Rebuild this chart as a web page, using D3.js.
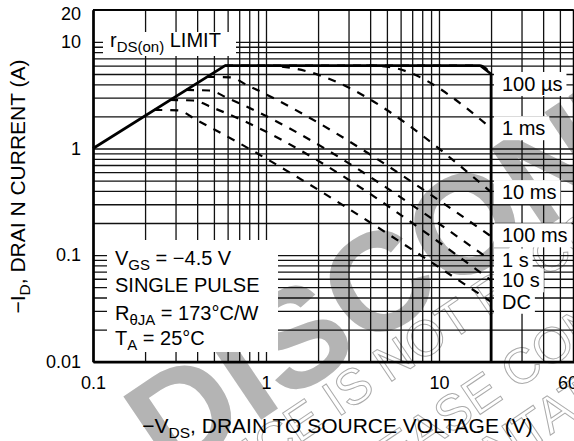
<!DOCTYPE html>
<html>
<head>
<meta charset="utf-8">
<script src="https://cdn.jsdelivr.net/npm/d3@7"></script>
<style>
  body { margin: 0; background: #fff; }
  text { font-family: "Liberation Sans", Arial, Helvetica, sans-serif; }
</style>
</head>
<body>
<div id="chart"></div>
<script>
// values
var xTickLabels = [0.1, 1, 10, 60];
var yTickLabels = [0.01, 0.1, 1, 10, 20];

// rDS(on) limit / package limit / BVdss line
var limitV = [0.1, 0.58, 17.3, 20, 20];
var limitI = [1, 6, 6, 5, 0.01];

var pulseNames = ["100 µs", "1 ms", "10 ms", "100 ms", "1 s", "10 s", "DC"];
var pulseV = [
  [0.58, 17.3, 20],
  [3.8, 5.0, 20],
  [1.0, 1.3, 20],
  [0.455, 0.62, 0.78, 20],
  [0.345, 0.47, 0.60, 20],
  [0.279, 0.38, 0.49, 20],
  [0.226, 0.31, 0.39, 20]
];
var pulseI = [
  [6, 6, 5],
  [6, 5.85, 1.55],
  [6, 5.8, 0.39],
  [4.69, 4.65, 3.92, 0.15],
  [3.54, 3.5, 2.97, 0.089],
  [2.85, 2.82, 2.42, 0.058],
  [2.30, 2.28, 1.88, 0.0365]
];

var W = 574, H = 441;
var pL = 93, pR = 573.6, pT = 9.8, pB = 361.7;

var x = d3.scaleLog().domain([0.1, 60]).range([pL, pR]);
var y = d3.scaleLog().domain([0.01, 20]).range([pB, pT]);

var svg = d3.select("#chart").append("svg")
  .attr("width", W).attr("height", H)
  .style("display", "block");

var gWater = svg.append("g");
var gGrid = svg.append("g");
var gBoxes = svg.append("g");
var gAxes = svg.append("g");
var gCurves = svg.append("g");
var gText = svg.append("g");

// watermark
gWater.append("text")
  .attr("transform", "translate(169.6,481.5) rotate(-34)")
  .attr("font-size", 140).attr("font-weight", "bold")
  .attr("fill", "#b4b4b4")
  .text("DISCONTINUED");

var notes = [
  {t: "THIS DEVICE IS NOT RECOMMENDED FOR NEW DESIGN", tr: "translate(66,601) rotate(-34)"},
  {t: "PLEASE CONTACT YOUR REPRESENTATIVE", tr: "translate(343,507) rotate(-34)"},
  {t: "REPRESENTATIVE FOR INFORMATION", tr: "translate(300,604) rotate(-34)"}
];
gWater.selectAll(".note").data(notes).enter().append("text")
  .attr("class", "note")
  .attr("transform", function(d) { return d.tr; })
  .attr("font-size", 50)
  .attr("fill", "none").attr("stroke", "#aaa").attr("stroke-width", 1)
  .text(function(d) { return d.t; });

// grid
gGrid.append("g")
  .attr("transform", "translate(0," + pB + ")")
  .call(d3.axisBottom(x).tickValues(x.ticks()).tickSize(-(pB - pT)).tickFormat(""))
  .call(function(g) { g.select(".domain").remove(); });
gGrid.append("g")
  .attr("transform", "translate(" + pL + ",0)")
  .call(d3.axisLeft(y).tickValues(y.ticks()).tickSize(-(pR - pL)).tickFormat(""))
  .call(function(g) { g.select(".domain").remove(); });
gGrid.selectAll("line").attr("stroke", "#111").attr("stroke-width", 1.3);

// white boxes behind the in-plot notes
gBoxes.append("rect").attr("x", 103).attr("y", 32).attr("width", 133).attr("height", 24).attr("fill", "#fff");
gBoxes.append("rect").attr("x", 107).attr("y", 240).attr("width", 171).attr("height", 112).attr("fill", "#fff");

// frame and axes
gAxes.append("line").attr("x1", pL).attr("x2", pR).attr("y1", pT).attr("y2", pT)
  .attr("stroke", "#000").attr("stroke-width", 1.7);
gAxes.append("line").attr("x1", pR).attr("x2", pR).attr("y1", pT).attr("y2", pB)
  .attr("stroke", "#000").attr("stroke-width", 1.7);

var xAxis = gAxes.append("g")
  .attr("transform", "translate(0," + pB + ")")
  .call(d3.axisBottom(x).tickValues(xTickLabels).tickSize(0).tickPadding(15)
    .tickFormat(function(d) { return String(d); }));
var yAxis = gAxes.append("g")
  .attr("transform", "translate(" + pL + ",0)")
  .call(d3.axisLeft(y).tickValues(yTickLabels).tickSize(0).tickPadding(12)
    .tickFormat(function(d) { return String(d); }));
[xAxis, yAxis].forEach(function(a) {
  a.select(".domain").attr("stroke", "#000").attr("stroke-width", 2.7);
  a.selectAll("text").attr("font-size", 18).attr("fill", "#000")
    .style("font-family", '"Liberation Sans", Arial, sans-serif');
});
yAxis.selectAll(".tick").filter(function(d) { return d === 20; })
  .select("text").attr("dy", "0.55em");
xAxis.selectAll(".tick").filter(function(d) { return d === 60; })
  .select("text").attr("dx", -6);

// curves
var limitPts = limitV.map(function(v, i) { return [v, limitI[i]]; });
gCurves.append("path")
  .attr("d", d3.line().x(function(d) { return x(d[0]); }).y(function(d) { return y(d[1]); })(limitPts))
  .attr("fill", "none").attr("stroke", "#000").attr("stroke-width", 2.7)
  .attr("stroke-linejoin", "round");

var pulseLine = d3.line()
  .x(function(d) { return x(d[0]); })
  .y(function(d) { return y(d[1]); })
  .curve(d3.curveMonotoneX);

pulseV.forEach(function(vs, k) {
  var pts = vs.map(function(v, i) { return [v, pulseI[k][i]]; });
  gCurves.append("path")
    .attr("d", pulseLine(pts))
    .attr("fill", "none").attr("stroke", "#000").attr("stroke-width", 2.2)
    .attr("stroke-dasharray", "8,8");
});

// subscript helper
function rich(sel, parts, base, sub) {
  var shift = 0;
  parts.forEach(function(p) {
    var s = p[1] ? 5 : 0;
    sel.append("tspan")
      .attr("font-size", p[1] ? sub : base)
      .attr("dy", s - shift)
      .text(p[0]);
    shift = s;
  });
  return sel;
}

// pulse labels at right
var labelShift = [10, 0, 0, -1, 0, 0, 0];
pulseNames.forEach(function(name, k) {
  var iEnd = pulseI[k][pulseI[k].length - 1];
  var cy = y(iEnd) + labelShift[k];
  var t = gText.append("text")
    .attr("x", 502).attr("y", cy + 7)
    .attr("font-size", 20).attr("fill", "#000")
    .text(name);
  var b = t.node().getBBox();
  gBoxes.append("rect")
    .attr("x", 494).attr("y", b.y - 1)
    .attr("width", b.x + b.width + 4 - 494).attr("height", b.height + 2)
    .attr("fill", "#fff");
});

// in-plot notes
rich(gText.append("text").attr("x", 110).attr("y", 47).attr("fill", "#000"),
  [["r", 0], ["DS(on)", 1], [" LIMIT", 0]], 20, 15);
rich(gText.append("text").attr("x", 115).attr("y", 265).attr("fill", "#000"),
  [["V", 0], ["GS", 1], [" = \u22124.5 V", 0]], 20, 15);
gText.append("text").attr("x", 115).attr("y", 292).attr("font-size", 20).text("SINGLE PULSE");
rich(gText.append("text").attr("x", 115).attr("y", 320).attr("fill", "#000"),
  [["R", 0], ["\u03b8JA", 1], [" = 173\u00b0C/W", 0]], 20, 15);
rich(gText.append("text").attr("x", 115).attr("y", 345).attr("fill", "#000"),
  [["T", 0], ["A", 1], [" = 25\u00b0C", 0]], 20, 15);

// axis titles
rich(gText.append("text").attr("x", 337.5).attr("y", 433).attr("text-anchor", "middle"),
  [["\u2212V", 0], ["DS", 1], [", DRAIN TO SOURCE VOLTAGE (V)", 0]], 21, 15.5);
rich(gText.append("text").attr("transform", "translate(25,186.5) rotate(-90)").attr("text-anchor", "middle"),
  [["\u2212I", 0], ["D", 1], [", DRAI N CURRENT (A)", 0]], 21, 15.5);
</script>
</body>
</html>
